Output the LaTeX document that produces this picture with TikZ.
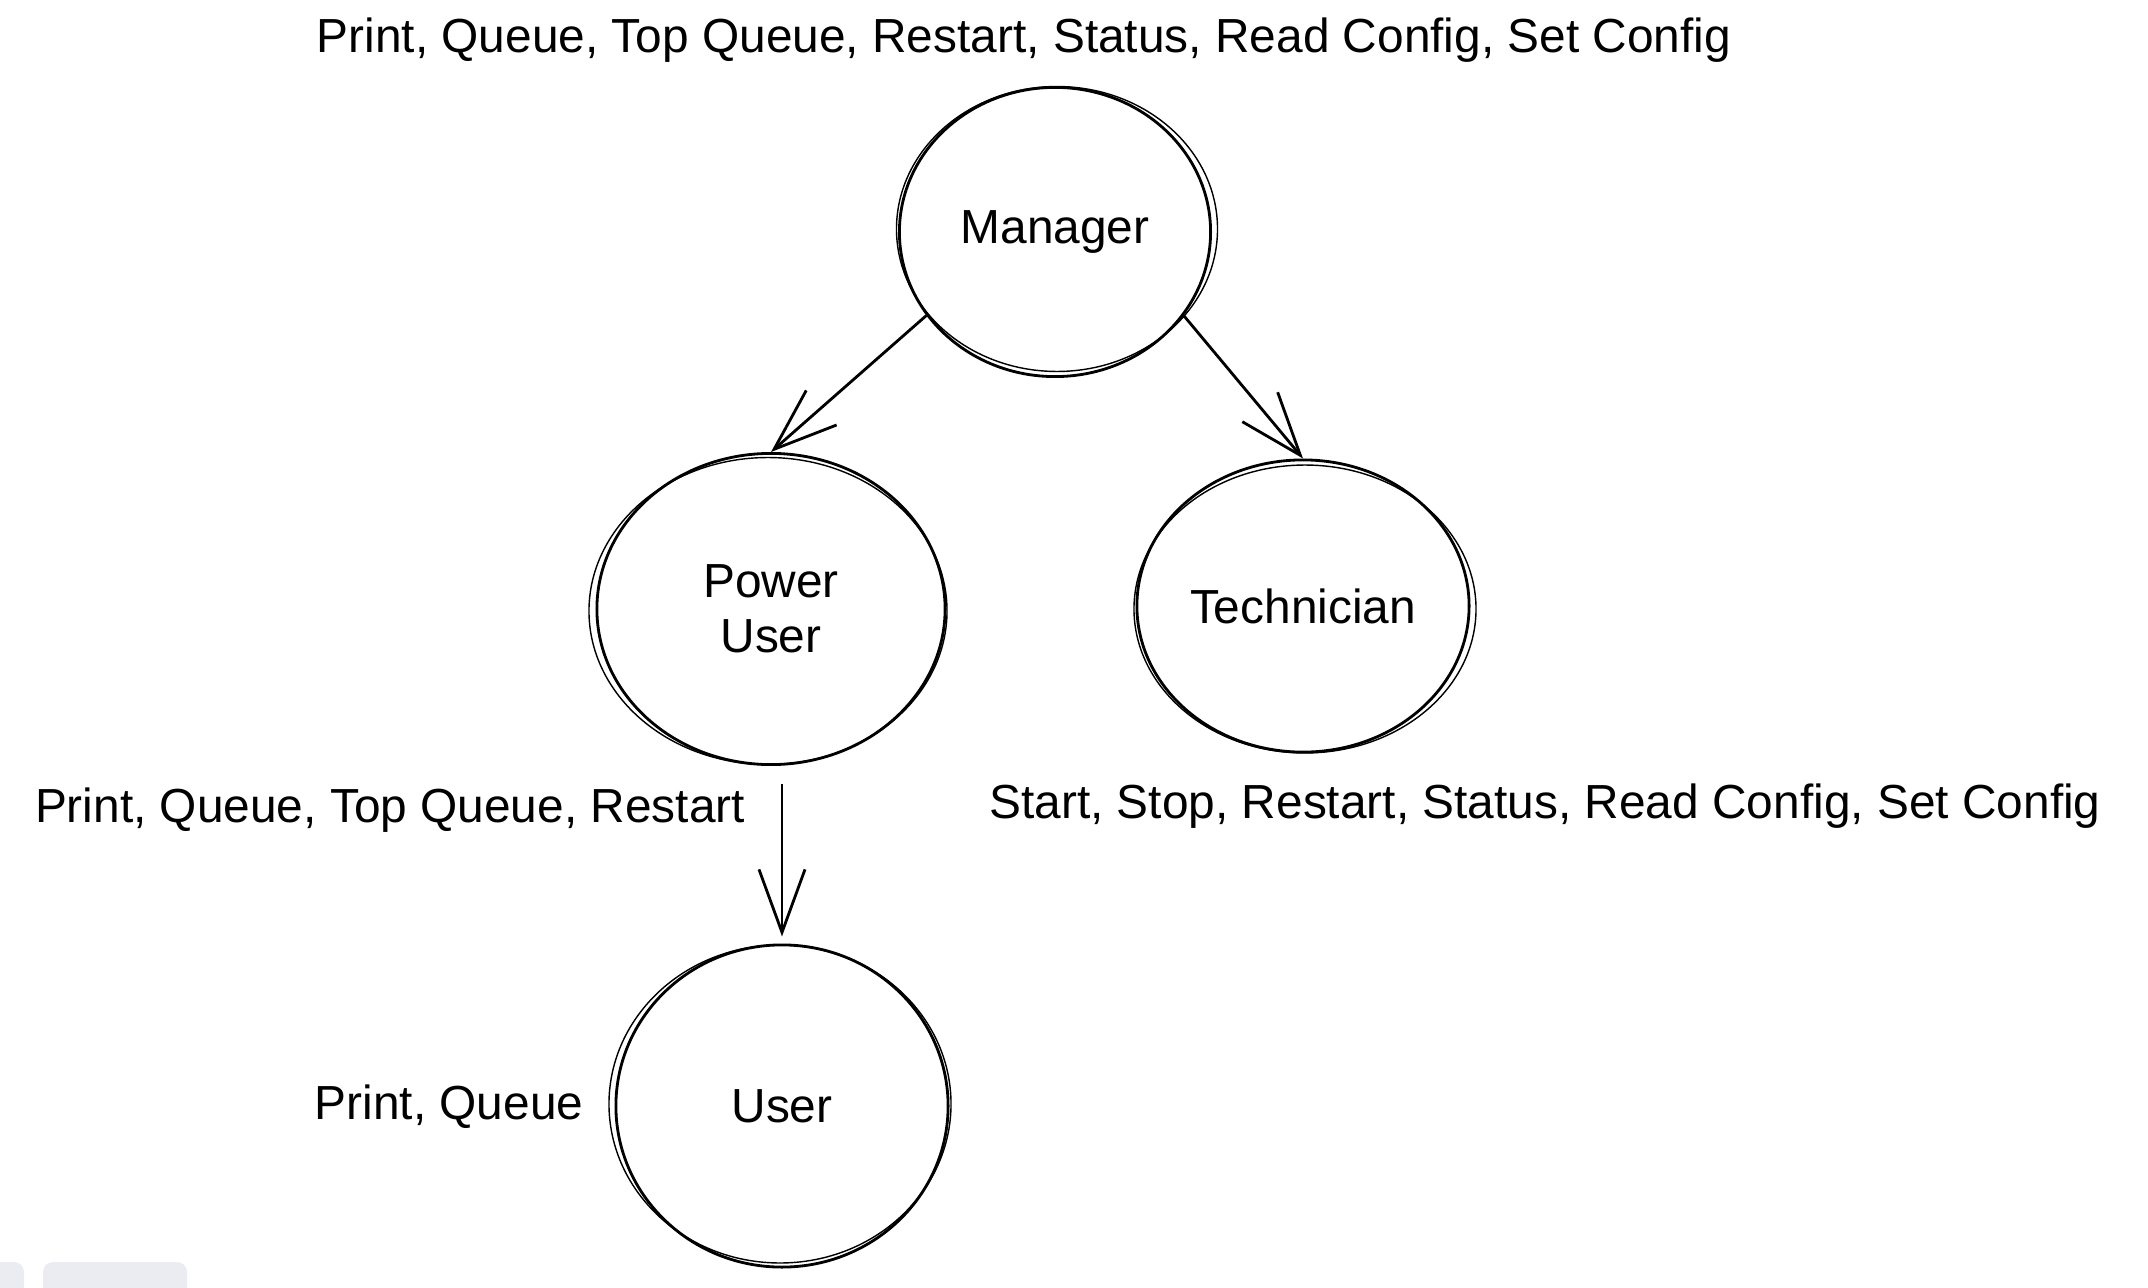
\documentclass[tikz,border=0pt]{standalone}
\usepackage{fontspec}
\setmainfont{Liberation Sans}
\usetikzlibrary{arrows.meta, calc, shapes.geometric}
\definecolor{chromegray}{RGB}{235,236,241}

\begin{document}
\begin{tikzpicture}[x=0.01cm, y=-0.01cm,
  role/.style={draw, ellipse, line width=0.8pt, inner sep=0pt, align=center, font=\fontsize{13.6}{15.5}\selectfont},
  perms/.style={font=\fontsize{13.6}{16}\selectfont, inner sep=0pt},
  grant/.style={-{Straight Barb[length=0.63cm, width=0.46cm]}, line width=0.8pt}]
\useasboundingbox (0,0) rectangle (2148,1288);
% Roles
\node[role, minimum width=3.11cm, minimum height=2.89cm] (manager) at (1055,232) {Manager};
\node[role, minimum width=3.48cm, minimum height=3.11cm] (power) at (771,609) {Power\\User};
\node[role, minimum width=3.32cm, minimum height=2.92cm] (tech) at (1303,606) {Technician};
\node[role, minimum width=3.32cm, minimum height=3.22cm] (user) at (782,1106) {User};
% Second pencil stroke round each role
\foreach \r/\dx/\dy in {manager/2/-3, power/-3/2, tech/2/3, user/-2/-2}
  \draw[line width=0.4pt] let \p1=($(\r.east)-(\r.center)$), \p2=($(\r.north)-(\r.center)$) in
    ($(\r.center)+(\dx,\dy)$) ellipse ({\x1+1pt} and {\y2-1pt});
% Grants
\draw[grant] (manager.213) -- (power.north);
\draw[grant] (manager.327) -- (tech.north);
\draw[grant, shorten <=0.18cm, shorten >=0.07cm] (user.north |- power.south) -- (user.north);
% Permission labels
\node[perms] (managerperms) at (1024,40) {Print, Queue, Top Queue, Restart, Status, Read Config, Set Config};
\node[perms] (powerperms) at (390,810) {Print, Queue, Top Queue, Restart};
\node[perms] (techperms) at (1545,806) {Start, Stop, Restart, Status, Read Config, Set Config};
\node[perms] (userperms) at (449,1107) {Print, Queue};
% Window chrome
\fill[chromegray, rounded corners=0.1cm] (-20,1262) rectangle (24,1320);
\fill[chromegray, rounded corners=0.1cm] (43,1262) rectangle (187,1320);
\end{tikzpicture}
\end{document}
